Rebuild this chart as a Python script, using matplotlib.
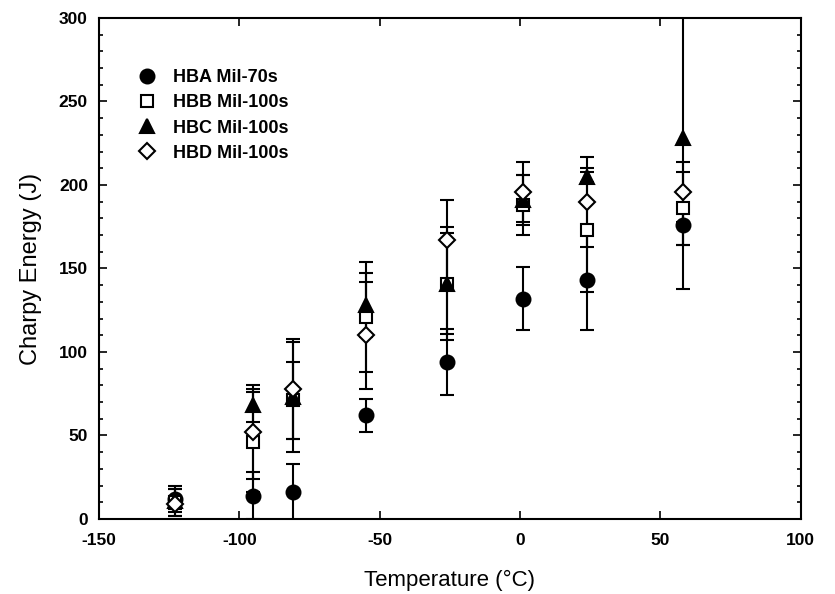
import matplotlib.pyplot as plt
from matplotlib.lines import Line2D
from matplotlib.ticker import MultipleLocator

temps = [-123, -95, -81, -55, -26, 1, 24, 58]

hba = [12, 14, 16, 62, 94, 132, 143, 176]
hba_err = [6, 14, 17, 10, 20, 19, 30, 12]

hbb = [10, 46, 71, 121, 141, 188, 173, 186]
hbb_err = [8, 30, 23, 33, 34, 18, 37, 22]

hbc = [11, 68, 73, 128, 141, 191, 205, 228]
hbc_err = [9, 10, 33, 19, 30, 15, 3, 90]

hbd = [9, 52, 78, 110, 167, 196, 190, 196]
hbd_err = [5, 28, 30, 32, 24, 18, 27, 18]

series = [
    ("HBA Mil-70s", hba, hba_err, "o", "black", 10),
    ("HBB Mil-100s", hbb, hbb_err, "s", "white", 9),
    ("HBC Mil-100s", hbc, hbc_err, "^", "black", 10),
    ("HBD Mil-100s", hbd, hbd_err, "D", "white", 8),
]

plt.rcParams["font.family"] = ["Liberation Sans", "DejaVu Sans"]
plt.rcParams["axes.unicode_minus"] = False

fig = plt.figure(figsize=(8.35, 5.94), dpi=100)
ax = fig.add_axes([0.1186, 0.1263, 0.8404, 0.8434])

handles = []
for name, vals, err, marker, face, ms in series:
    ax.errorbar(temps, vals, yerr=err, fmt=marker, color="black",
                mfc=face, mec="black", mew=1.5, ms=ms,
                ecolor="black", elinewidth=1.5, capsize=5, capthick=1.5)
    handles.append(Line2D([], [], ls="none", marker=marker, mfc=face,
                          mec="black", mew=1.5, ms=ms, label=name))

ax.set_xlim(-150, 100)
ax.set_ylim(0, 300)
ax.xaxis.set_major_locator(MultipleLocator(50))
ax.yaxis.set_major_locator(MultipleLocator(50))
ax.yaxis.set_minor_locator(MultipleLocator(10))
ax.tick_params(which="both", direction="in", top=True, right=True,
               labelsize=12.5, width=1.2)
ax.tick_params(which="major", length=6)
ax.tick_params(which="minor", length=3)
ax.tick_params(axis="x", pad=10)
ax.tick_params(axis="y", pad=8)
for lbl in ax.get_xticklabels() + ax.get_yticklabels():
    lbl.set_fontweight("bold")
for sp in ax.spines.values():
    sp.set_linewidth(1.5)

ax.set_xlabel("Temperature (°C)", fontsize=16, labelpad=16)
ax.set_ylabel("Charpy Energy (J)", fontsize=17, labelpad=12)

ax.legend(handles=handles, loc="upper left", frameon=False,
          prop={"weight": "bold", "size": 13},
          bbox_to_anchor=(0.02, 0.93), handletextpad=0.4,
          labelspacing=0.45)

fig.savefig("out.png", dpi=100)
